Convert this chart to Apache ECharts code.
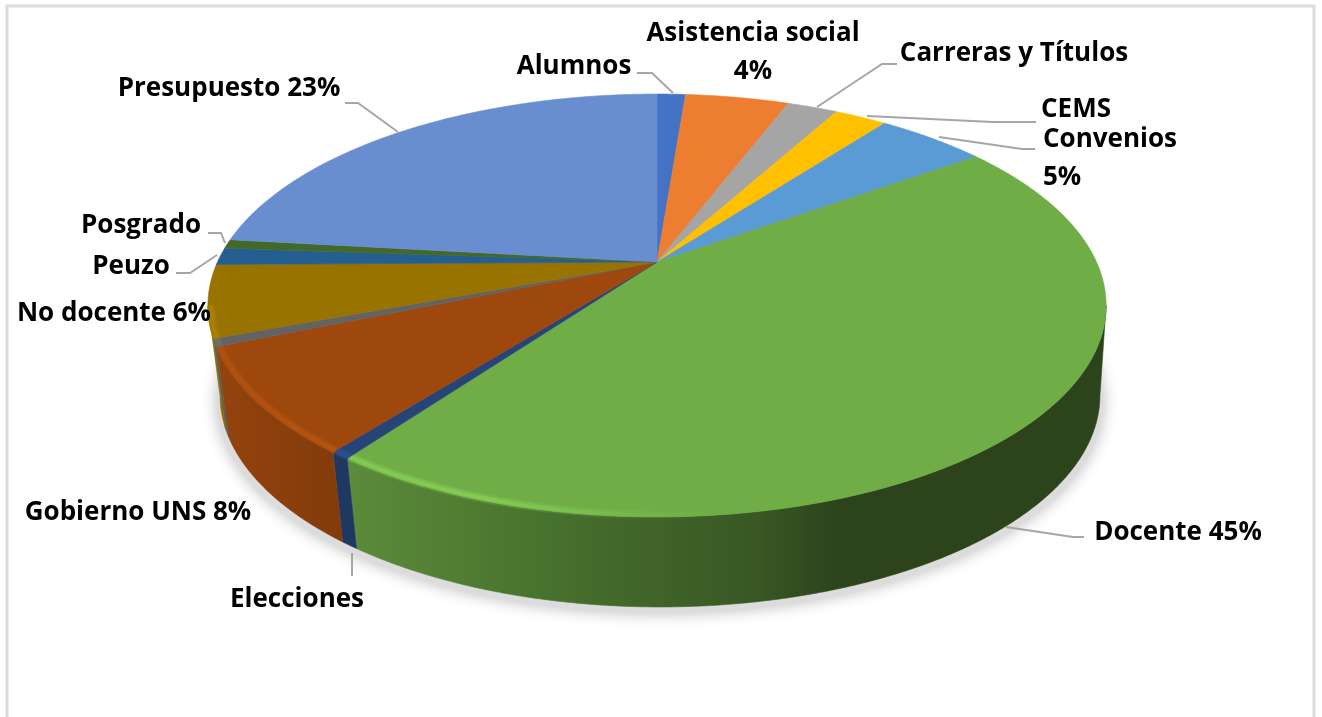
<!DOCTYPE html>
<html><head><meta charset="utf-8">
<style>html,body{margin:0;padding:0;background:#fff}#c{width:1322px;height:717px}</style>
<script src="https://cdn.jsdelivr.net/npm/echarts@6/dist/echarts.min.js"></script>
</head><body><div id="c"></div>
<script>
const categories = ['Alumnos','Asistencia social','Carreras y Títulos','CEMS','Convenios','Docente','Elecciones','Gobierno UNS','Sin rótulo','No docente','Peuzo','Posgrado','Presupuesto'];
const values = [1.25,4.55,2.2,2.3,4.8,44.9,0.6,8.1,0.6,5.5,1.3,0.7,23.2];
const labelTexts = ['Alumnos','Asistencia social\n4%','Carreras y Títulos','CEMS','Convenios\n5%','Docente 45%','Elecciones','Gobierno UNS 8%','','No docente 6%','Peuzo','Posgrado','Presupuesto 23%'];
const colors = ['#4472c4','#ed7d31','#a5a5a5','#ffc000','#5b9bd5','#70ad47','#264478','#9e480e','#636363','#997300','#255e91','#43682b','#698ed0'];

// layout, not data
const labelPos = [[574,67,'center'],[753,53,'center'],[1014,54,'center'],[1076,110,'center'],[1043,159,'left'],[1178,533,'center'],[297,600,'center'],[138,513,'center'],null,[114,314,'center'],[131,267,'center'],[141,226,'center'],[229,89,'center']];
const leaders = [
  [[673,93],[652,73],[637,73]], null,
  [[817,107],[882,64],[897,64]],
  [[867,116],[993,122],[1036,122]],
  [[939,137],[1022,149],[1035,149]],
  [[1006,527],[1073,537],[1084,537]],
  [[352,553],[352,576]], null, null, null,
  [[217,255],[190,273],[176,273]],
  [[225,243],[221,233],[208,233]],
  [[398,132],[358,103],[345,103]]
];
const K = 0.2057;
const TOP = {cx:657, cy:262, R:439.5, S:202.5};
const BOT = {cx:660, cy:352, R:430.5, S:202.5};
const FONT = '700 26px "Open Sans"';

const total = values.reduce((a,b)=>a+b,0);
const cum = [0]; values.forEach((v,i)=>cum.push(cum[i]+v));
const rad = f => f/total*Math.PI*2;
function proj(a, M, scale){
  scale = scale||1;
  const x = Math.sin(a)*scale, y = -Math.cos(a)*scale, w = 1-K*y;
  return [M.cx + M.R*x/w, M.cy + M.S*y/w];
}
function arc(a0,a1,M,scale){
  const n = Math.max(2,Math.ceil((a1-a0)/0.006)), p=[];
  for(let i=0;i<=n;i++) p.push(proj(a0+(a1-a0)*i/n,M,scale));
  return p;
}
function shade(hex,f){
  const n=parseInt(hex.slice(1),16);
  const c=[n>>16,(n>>8)&255,n&255].map(v=>Math.round(Math.min(255,v*f)));
  return 'rgb('+c.join(',')+')';
}
function rgba(hex,f,a){
  return shade(hex,f).replace('rgb(','rgba(').replace(')',','+a+')');
}
function wallFill(col){
  const stops=[[200,.95],[340,.82],[360,.8],[600,.61],[760,.5],[840,.39],[1110,.39]];
  return {type:'linear',global:true,x:200,y:0,x2:1110,y2:0,
    colorStops:stops.map(s=>({offset:(s[0]-200)/910,color:shade(col,s[1])}))};
}
function rimFill(col,k){
  const stops=[[200,.3],[360,.5],[480,.55],[640,.12],[720,0],[1110,0]];
  return {type:'linear',global:true,x:200,y:0,x2:1110,y2:0,
    colorStops:stops.map(s=>({offset:(s[0]-200)/910,color:rgba(col,1.3,s[1]*k)}))};
}
const VIS0 = Math.PI/2+Math.asin(K), VIS1 = 3*Math.PI/2-Math.asin(K);

function renderSlice(params,api){
  const i = params.dataIndex, v = api.value(0), col = colors[i];
  const a0 = rad(cum[i]), a1 = a0+rad(v);
  const children = [];
  const w0 = Math.max(a0,VIS0), w1 = Math.min(a1,VIS1);
  if(w1>w0){
    const top = arc(w0,w1,TOP), bot = arc(w0,w1,BOT).reverse();
    const fill = wallFill(col);
    children.push({type:'polygon',shape:{points:top.concat(bot)},style:{fill:fill,stroke:fill,lineWidth:.6}});
  }
  const apex=[TOP.cx,TOP.cy];
  const pts=[apex].concat(arc(a0,a1,TOP));
  children.push({type:'polygon',shape:{points:pts},style:{fill:col,stroke:col,lineWidth:.6}});
  if(w1>w0){
    [[9,.35],[6,.45],[3,.55]].forEach(s=>{
      children.push({type:'polyline',shape:{points:arc(w0,w1,TOP,.993)},
        style:{fill:null,stroke:rimFill(col,s[1]),lineWidth:s[0],lineCap:'butt'}});
    });
  }
  return {type:'group',children:children};
}
function renderLabels(params,api){
  const i=params.dataIndex, children=[];
  if(leaders[i]) children.push({type:'polyline',shape:{points:leaders[i]},style:{fill:null,stroke:'#a6a6a6',lineWidth:2}});
  if(labelPos[i]){
    const p=labelPos[i];
    children.push({type:'text',style:{text:labelTexts[i],x:p[0],y:p[1],textAlign:p[2],textVerticalAlign:'middle',font:FONT,fill:'#000',lineHeight:38}});
  }
  return {type:'group',children:children};
}
function renderShadow(){
  const pts=arc(0,Math.PI*2,{cx:BOT.cx,cy:BOT.cy+6,R:BOT.R+3,S:BOT.S});
  return {type:'polygon',shape:{points:pts},style:{fill:'#dcdcdc',shadowBlur:16,shadowColor:'rgba(0,0,0,.28)'}};
}
const chart = echarts.init(document.getElementById('c'),null,{renderer:'canvas'});
chart.setOption({
  animation:false,
  backgroundColor:'#fff',
  graphic:[{type:'rect',shape:{x:7,y:6,width:1307,height:760},style:{fill:null,stroke:'#dcdcdc',lineWidth:3},silent:true}],
  series:[
    {type:'custom',coordinateSystem:'none',silent:true,z:1,data:[1],renderItem:renderShadow},
    {type:'custom',coordinateSystem:'none',silent:true,z:2,data:values,renderItem:renderSlice},
    {type:'custom',coordinateSystem:'none',silent:true,z:3,data:values,renderItem:renderLabels}
  ]
});
</script></body></html>
